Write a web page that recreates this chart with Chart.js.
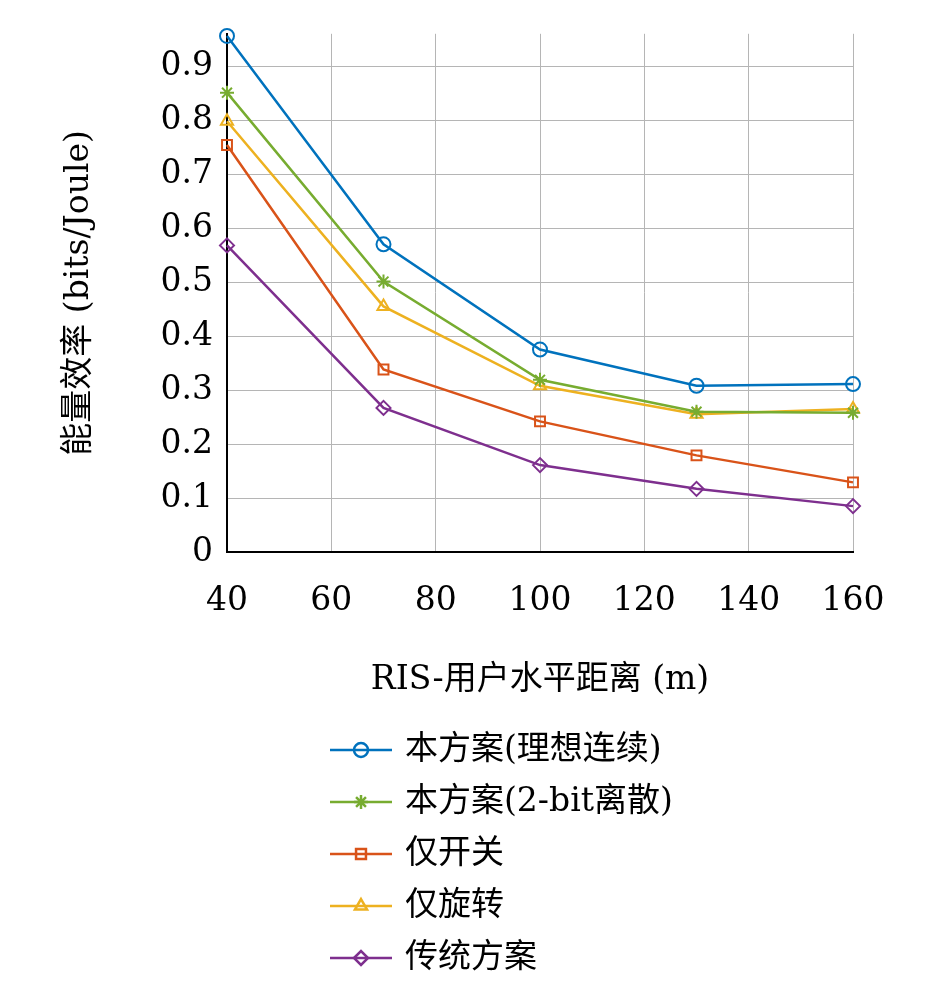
<!DOCTYPE html>
<html><head><meta charset="utf-8">
<script src="https://cdn.jsdelivr.net/npm/chart.js@4"></script>
<style>body{margin:0;background:#fff}</style>
</head><body>
<canvas id="c" width="945" height="981"></canvas>
<script>
var distances = [40, 70, 100, 130, 160];
var names = ["本方案(理想连续)", "本方案(2-bit离散)", "仅开关", "仅旋转", "传统方案"];
var ideal = [0.956, 0.570, 0.375, 0.308, 0.311];
var twoBit = [0.851, 0.501, 0.319, 0.260, 0.258];
var onOff = [0.754, 0.338, 0.242, 0.179, 0.129];
var rotOnly = [0.798, 0.455, 0.308, 0.255, 0.265];
var classic = [0.568, 0.267, 0.161, 0.117, 0.085];
var yTicks = [0, 0.1, 0.2, 0.3, 0.4, 0.5, 0.6, 0.7, 0.8, 0.9];
var colors = ["#0072BD", "#77AC30", "#D95319", "#EDB120", "#7E2F8E"];
var shapes = ["circle", "star", "rect", "triangle", "rectRot"];
var series = [ideal, twoBit, onOff, rotOnly, classic];
var font = "'DejaVu Serif', 'Noto Sans CJK SC', serif";

var datasets = series.map(function (s, i) {
  return {
    label: names[i],
    data: s.map(function (v, j) { return {x: distances[j], y: v}; }),
    borderColor: colors[i], backgroundColor: "rgba(255,255,255,0)",
    borderWidth: 2.5, pointStyle: shapes[i], pointRadius: 7,
    pointBorderWidth: 2, pointBorderColor: colors[i], clip: false
  };
});

var legendPlugin = {
  id: "vlegend",
  afterDraw: function (chart) {
    var ctx = chart.ctx;
    chart.data.datasets.forEach(function (ds, i) {
      var y = 750 + i * 52;
      ctx.save();
      ctx.strokeStyle = ds.borderColor; ctx.lineWidth = 2.5;
      ctx.beginPath(); ctx.moveTo(330, y); ctx.lineTo(392, y); ctx.stroke();
      Chart.helpers.drawPoint(ctx, {pointStyle: ds.pointStyle, radius: 7, rotation: 0, borderWidth: 2}, 361, y);
      ctx.fillStyle = "#000"; ctx.font = "33px " + font;
      ctx.textBaseline = "middle"; ctx.textAlign = "left";
      ctx.fillText(ds.label, 405, y);
      ctx.restore();
    });
  }
};

new Chart(document.getElementById("c"), {
  type: "line",
  data: {datasets: datasets},
  options: {
    responsive: false, animation: false,
    layout: {padding: {left: 20, top: 12, right: 92, bottom: 281}},
    plugins: {legend: {display: false}, tooltip: {enabled: false}},
    scales: {
      x: {
        type: "linear", min: 40, max: 160,
        ticks: {stepSize: 20, color: "#000", font: {size: 33, family: font}, padding: 30},
        grid: {color: "#b5b5b5", lineWidth: 1, drawTicks: false},
        border: {color: "#000", width: 2},
        title: {display: true, text: "RIS-用户水平距离 (m)", color: "#000", font: {size: 33, family: font}, padding: {top: 18, bottom: 0}},
        afterFit: function (s) { s.height = 148; }
      },
      y: {
        min: 0, max: 0.96,
        afterBuildTicks: function (s) { s.ticks = yTicks.map(function (v) { return {value: v}; }); },
        ticks: {color: "#000", font: {size: 33, family: font}, padding: 14,
          callback: function (v) { return Math.abs(v) < 1e-9 ? "0" : (Math.round(v * 10) / 10).toString(); }},
        grid: {color: "#b5b5b5", lineWidth: 1, drawTicks: false},
        border: {color: "#000", width: 2},
        title: {display: true, text: "能量效率 (bits/Joule)", color: "#000", font: {size: 33, family: font}, padding: {top: 40, bottom: 0}},
        afterFit: function (s) { s.width = 207; }
      }
    }
  },
  plugins: [legendPlugin]
});
</script>
</body></html>
